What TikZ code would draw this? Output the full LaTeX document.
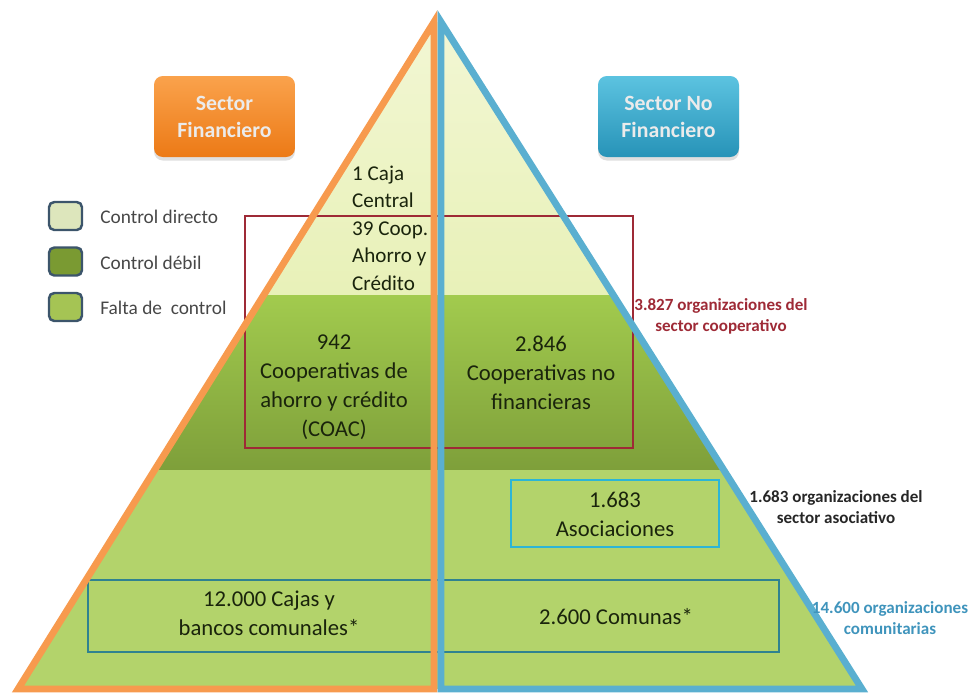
\documentclass[tikz,border=0pt]{standalone}
\usepackage{fontspec}
\setmainfont{Carlito}
\usetikzlibrary{shadows}

\definecolor{finorange}{HTML}{F79A4E}
\definecolor{nfinblue}{HTML}{5AAFD0}
\definecolor{finboxtop}{HTML}{FAA24C}
\definecolor{finboxbot}{HTML}{EC7A16}
\definecolor{nfinboxtop}{HTML}{5CC3E0}
\definecolor{nfinboxbot}{HTML}{2793B8}
\definecolor{tiertop}{HTML}{F3F7D6}
\definecolor{tiertopb}{HTML}{E8F1B8}
\definecolor{tiermid}{HTML}{A2CB4E}
\definecolor{tiermidb}{HTML}{7E9F3A}
\definecolor{tierlow}{HTML}{B3D36B}
\definecolor{coopred}{HTML}{9E2A36}
\definecolor{asocblue}{HTML}{2CB5D6}
\definecolor{comteal}{HTML}{2F8290}
\definecolor{comlabel}{HTML}{3F94BC}
\definecolor{legendedge}{HTML}{3C556B}
\definecolor{ctrldir}{HTML}{DDE6BC}
\definecolor{ctrlweak}{HTML}{7A9A32}
\definecolor{ctrlnone}{HTML}{A5C454}
\definecolor{inktext}{HTML}{1A240C}

\tikzset{
  sectorbox/.style={rounded corners=5pt, minimum width=2.82cm, minimum height=1.62cm,
    align=center, text=white!92!black, font=\fontsize{12.4}{15.3}\selectfont\bfseries,
    drop shadow={opacity=0.25, shadow xshift=0pt, shadow yshift=-2pt}},
  tiertext/.style={align=center, text=inktext, font=\fontsize{12.9}{16.4}\selectfont},
  sidelabel/.style={align=center, font=\fontsize{9.7}{11.9}\selectfont\bfseries},
  legendsq/.style={draw=legendedge, line width=1.4pt, rounded corners=3pt,
    minimum width=0.66cm, minimum height=0.56cm},
}

\begin{document}
\begin{tikzpicture}[x=0.02cm, y=-0.02cm]

\useasboundingbox (0,0) rectangle (972,694);

\def\apexy{22}
\def\basey{689}
\def\midL{434}
\def\midR{441}
\def\cutA{295}   % control directo / control debil
\def\cutB{470}   % control debil / falta de control

% pyramid tiers
\begin{scope}
  \clip (\midL,\apexy) -- (18,\basey) -- (862,\basey) -- (\midR,\apexy) -- cycle;
  \shade[top color=tiertop, bottom color=tiertopb] (0,0) rectangle (972,\cutA);
  \shade[top color=tiermid, bottom color=tiermidb] (0,\cutA) rectangle (972,\cutB);
  \fill[tierlow] (0,\cutB) rectangle (972,\basey);
\end{scope}

% group frames
\draw[coopred, line width=1.3pt] (245,216) rectangle (633,448);
\draw[asocblue, line width=1.6pt] (511,480) rectangle (719,547);
\draw[comteal, line width=1.6pt] (88,580) rectangle (779,652);

% sector outlines
\draw[finorange, line width=3.9pt] (18,\basey) -- (\midL,\apexy) -- (\midL,\basey) -- cycle;
\draw[nfinblue, line width=3.9pt] (\midR,\apexy) -- (862,\basey) -- (\midR,\basey) -- cycle;

% sector headers
\node[sectorbox, top color=finboxtop, bottom color=finboxbot] (finSector) at (224.5,116.5) {Sector\\Financiero};
\node[sectorbox, top color=nfinboxtop, bottom color=nfinboxbot] (nfinSector) at (668.5,116.5) {Sector No\\Financiero};

% legend
\foreach \i/\col/\txt in {0/ctrldir/{Control directo}, 1/ctrlweak/{Control débil}, 2/ctrlnone/{Falta de\ \ control}}
{
  \pgfmathsetmacro{\yy}{216+\i*45.5}
  \node[legendsq, fill=\col] (legendSq\i) at (65.5,\yy) {};
  \node[anchor=west, inner sep=0pt, text=black!72, font=\fontsize{11}{13}\selectfont] (legendTxt\i) at (100,\yy+1) {\txt};
}

% tier contents
\node[tiertext, anchor=west, align=left, font=\fontsize{12}{15.6}\selectfont] (cajaCentral) at (346,228) {1 Caja\\Central\\39 Coop.\\Ahorro y\\Crédito};
\node[tiertext] (coac) at (334,387) {942\\Cooperativas de\\ahorro y crédito\\(COAC)};
\node[tiertext] (coopNoFin) at (541,373) {2.846\\Cooperativas no\\financieras};
\node[tiertext] (asociaciones) at (615,514) {1.683\\Asociaciones};
\node[tiertext] (cajasBancos) at (269,613) {12.000 Cajas y\\bancos comunales*};
\node[tiertext] (comunas) at (616,617) {2.600 Comunas*};

% side totals
\node[sidelabel, text=coopred] (totalCoop) at (721,316) {3.827 organizaciones del\\sector cooperativo};
\node[sidelabel, text=black!85] (totalAsoc) at (836,507) {1.683 organizaciones del\\sector asociativo};
\node[sidelabel, text=comlabel] (totalCom) at (890,618) {14.600 organizaciones\\comunitarias};

\end{tikzpicture}
\end{document}
